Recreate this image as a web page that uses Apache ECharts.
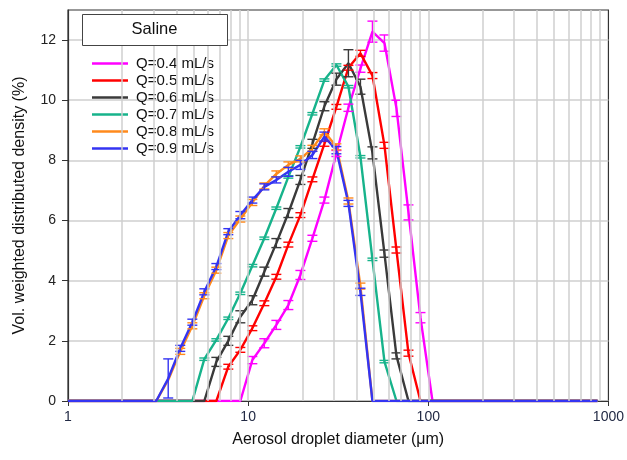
<!DOCTYPE html>
<html>
<head>
<meta charset="utf-8">
<script src="https://cdn.jsdelivr.net/npm/echarts@6/dist/echarts.min.js"></script>
<style>
  html, body { margin: 0; padding: 0; background: #fff; }
  #chart { width: 627px; height: 460px; }
</style>
</head>
<body>
<div id="chart"></div>
<script>
// Size bins (µm), log-spaced; first and last entries close the zero baseline
const diameters = [1, 3.09, 3.60, 4.20, 4.90, 5.71, 6.66, 7.76, 9.05, 10.55, 12.30, 14.34, 16.72,
  19.50, 22.73, 26.50, 30.90, 36.03, 42.01, 48.98, 57.11, 66.58, 77.62, 90.50, 105.5, 870];

// Volume-weighted density (%) for each flow rate
const q04 = [0, 0, 0, 0, 0, 0, 0, 0, 0, 1.36, 1.92, 2.53, 3.19, 4.19, 5.41, 6.68, 8.23, 9.75, 11.05, 12.28, 11.9, 9.73, 6.27, 2.77, 0, 0];
const q05 = [0, 0, 0, 0, 0, 0, 0, 1.14, 1.7, 2.42, 3.25, 4.13, 5.2, 6.18, 7.37, 8.55, 9.78, 11.08, 11.56, 10.82, 8.5, 5.02, 1.59, 0, 0, 0];
const q06 = [0, 0, 0, 0, 0, 0, 1.3, 2.0, 2.8, 3.35, 4.3, 5.25, 6.25, 7.35, 8.55, 9.8, 10.7, 11.23, 10.45, 8.25, 4.9, 1.5, 0, 0, 0, 0];
const q07 = [0, 0, 0, 0, 0, 1.39, 2.03, 2.75, 3.58, 4.5, 5.41, 6.41, 7.45, 8.45, 9.55, 10.67, 11.17, 10.45, 8.12, 4.71, 1.31, 0, 0, 0, 0, 0];
const q08 = [0, 0, 0.7, 1.65, 2.5, 3.5, 4.35, 5.5, 6.05, 6.6, 7.15, 7.55, 7.85, 8.05, 8.4, 8.95, 8.45, 6.65, 3.82, 0, 0, 0, 0, 0, 0, 0];
const q09 = [0, 0, 0.75, 1.75, 2.62, 3.63, 4.47, 5.63, 6.18, 6.68, 7.12, 7.35, 7.62, 7.85, 8.18, 8.79, 8.34, 6.57, 3.63, 0, 0, 0, 0, 0, 0, 0];

// Half-width of the error bars (%)
const e04 = [0, 0, 0, 0, 0, 0, 0, 0, 0, 0.12, 0.15, 0.15, 0.15, 0.15, 0.1, 0.1, 0.1, 0.12, 0.12, 0.35, 0.27, 0.27, 0.25, 0.17, 0, 0];
const e05 = [0, 0, 0, 0, 0, 0, 0, 0.08, 0.08, 0.08, 0.08, 0.08, 0.08, 0.08, 0.08, 0.08, 0.08, 0.08, 0.1, 0.1, 0.1, 0.1, 0.1, 0, 0, 0];
const e06 = [0, 0, 0, 0, 0, 0, 0.15, 0.15, 0.2, 0.15, 0.15, 0.15, 0.15, 0.15, 0.15, 0.15, 0.2, 0.45, 0.25, 0.2, 0.12, 0.1, 0, 0, 0, 0];
const e07 = [0, 0, 0, 0, 0, 0.04, 0.04, 0.04, 0.04, 0.04, 0.04, 0.04, 0.04, 0.04, 0.04, 0.04, 0.04, 0.04, 0.04, 0.04, 0.04, 0, 0, 0, 0, 0];
const e08 = [0, 0, 0, 0.1, 0.1, 0.1, 0.1, 0.1, 0.1, 0.1, 0.1, 0.1, 0.1, 0.1, 0.1, 0.1, 0.1, 0.1, 0.1, 0, 0, 0, 0, 0, 0, 0];
const e09 = [0, 0, 0.65, 0.1, 0.1, 0.1, 0.1, 0.1, 0.12, 0.1, 0.1, 0.1, 0.15, 0.15, 0.12, 0.15, 0.12, 0.1, 0.12, 0, 0, 0, 0, 0, 0, 0];

const seriesNames = ['Q=0.4 mL/s', 'Q=0.5 mL/s', 'Q=0.6 mL/s', 'Q=0.7 mL/s', 'Q=0.8 mL/s', 'Q=0.9 mL/s'];
const seriesValues = [q04, q05, q06, q07, q08, q09];
const seriesErrors = [e04, e05, e06, e07, e08, e09];
const seriesColors = ['#ff00ff', '#ff0000', '#3a3a3a', '#17b38b', '#ff8a1c', '#3434f2'];

const yTicks = [0, 2, 4, 6, 8, 10, 12];
const xTicks = [1, 10, 100, 1000];

// Light vertical grid at 2..9 of every decade, plus 10 and 100
const minorGrid = [];
[1, 10, 100].forEach(function (dec) {
  for (let m = 2; m <= 9; m++) minorGrid.push(dec * m);
});
[10, 100].forEach(function (v) { minorGrid.push(v); });

const FONT = 'Liberation Sans, Arial, sans-serif';

const chart = echarts.init(document.getElementById('chart'), null, { renderer: 'canvas' });

const series = [];
// gridline carrier
series.push({
  type: 'line', data: [], silent: true, z: 1,
  markLine: {
    silent: true, symbol: 'none', animation: false,
    label: { show: false },
    lineStyle: { color: '#cfcfcf', width: 1.5, type: 'solid' },
    data: minorGrid.map(function (v) { return { xAxis: v }; })
  }
});

seriesNames.forEach(function (name, i) {
  const vals = seriesValues[i];
  series.push({
    name: name,
    type: 'line',
    showSymbol: false,
    symbol: 'none',
    z: 3,
    lineStyle: { color: seriesColors[i], width: 2.4 },
    itemStyle: { color: seriesColors[i] },
    data: diameters.map(function (d, j) { return [d, vals[j]]; })
  });
});

seriesNames.forEach(function (name, i) {
  const vals = seriesValues[i];
  const errs = seriesErrors[i];
  const pts = [];
  diameters.forEach(function (d, j) {
    if (errs[j] > 0) pts.push([d, vals[j], errs[j]]);
  });
  series.push({
    name: name,
    type: 'custom',
    z: 4,
    silent: true,
    encode: { x: 0, y: 1 },
    data: pts,
    renderItem: function (params, api) {
      const x = api.value(0), y = api.value(1), e = api.value(2);
      const lo = api.coord([x, Math.max(0, y - e)]);
      const hi = api.coord([x, y + e]);
      const half = 5;
      const style = { stroke: seriesColors[i], lineWidth: 1.4, fill: null };
      return {
        type: 'group',
        children: [
          { type: 'line', shape: { x1: lo[0], y1: lo[1], x2: hi[0], y2: hi[1] }, style: style },
          { type: 'line', shape: { x1: lo[0] - half, y1: lo[1], x2: lo[0] + half, y2: lo[1] }, style: style },
          { type: 'line', shape: { x1: hi[0] - half, y1: hi[1], x2: hi[0] + half, y2: hi[1] }, style: style }
        ]
      };
    }
  });
});

chart.setOption({
  animation: false,
  backgroundColor: '#ffffff',
  textStyle: { fontFamily: FONT },
  grid: {
    left: 68, right: 18, top: 10, bottom: 59,
    show: true, borderColor: '#333', borderWidth: 1.2, backgroundColor: 'transparent'
  },
  legend: {
    data: seriesNames,
    orient: 'vertical',
    left: 92, top: 56,
    padding: 0,
    icon: 'rect',
    itemWidth: 36, itemHeight: 2.6,
    itemGap: 2,
    selectedMode: false,
    textStyle: { fontFamily: FONT, fontSize: 15, color: '#111', padding: [0, 0, 0, 3], lineHeight: 15 }
  },
  xAxis: {
    type: 'log', logBase: 10, min: 1, max: 1000,
    name: 'Aerosol droplet diameter (μm)',
    nameLocation: 'middle', nameGap: 31,
    nameTextStyle: { fontFamily: FONT, fontSize: 16, color: '#111' },
    axisLine: { show: true, lineStyle: { color: '#333', width: 1.2 } },
    axisTick: { show: true, length: 5, inside: false, lineStyle: { color: '#333' }, customValues: xTicks },
    axisLabel: {
      fontFamily: FONT, fontSize: 14, color: '#222a44', margin: 9, customValues: xTicks,
      formatter: function (v) { return String(Math.round(v)); }
    },
    splitLine: { show: false }
  },
  yAxis: {
    type: 'value', min: 0, max: 13, interval: 2,
    name: 'Vol. weighted distributed density (%)',
    nameLocation: 'middle', nameGap: 40, nameRotate: 90,
    nameTextStyle: { fontFamily: FONT, fontSize: 16, color: '#111' },
    axisLine: { show: true, lineStyle: { color: '#333', width: 1.2 } },
    axisTick: { show: true, length: 6, lineStyle: { color: '#333' }, customValues: yTicks },
    axisLabel: { fontFamily: FONT, fontSize: 14, color: '#222', margin: 12, customValues: yTicks },
    splitLine: { show: true, lineStyle: { color: '#cfcfcf', width: 1.5 } }
  },
  graphic: [
    { type: 'rect', z: 100, left: 82, top: 14,
      shape: { x: 0, y: 0, width: 145, height: 31 },
      style: { fill: '#fff', stroke: '#444', lineWidth: 1 } },
    { type: 'text', z: 101, x: 154.5, y: 29.5,
      style: { text: 'Saline', fontFamily: FONT, fontSize: 16.5, fill: '#111', align: 'center', verticalAlign: 'middle' } }
  ],
  series: series
});
</script>
</body>
</html>
